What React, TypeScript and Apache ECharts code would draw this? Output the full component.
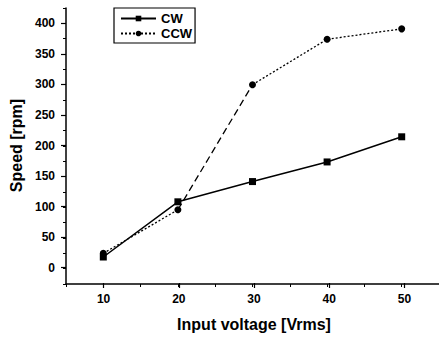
import React, { useEffect, useRef } from "react";
import * as echarts from "echarts";

const voltages = [10, 20, 30, 40, 50];
const cwSpeed = [19, 109, 142, 174, 215];
const ccwSpeed = [25, 96, 300, 374, 391];
const xTitle = "Input voltage [Vrms]";
const yTitle = "Speed [rpm]";

const W = 439;
const H = 337;
const FONT = "'Liberation Sans', Arial, sans-serif";

export default function App() {
  const ref = useRef<HTMLDivElement>(null);
  useEffect(() => {
    if (!ref.current) return;
    const chart = echarts.init(ref.current, null, { renderer: "svg" });

    // full plot frame (axis lines + minor ticks)
    const gA = { left: 66, right: -3, top: 8, bottom: 53 };
    const xMin = 5, xMax = 55, yMin = -25, yMax = 425;
    const gw = W - gA.left - gA.right;
    const gh = H - gA.top - gA.bottom;
    const px = (v: number) => gA.left + ((v - xMin) / (xMax - xMin)) * gw;
    const py = (v: number) => H - gA.bottom - ((v - yMin) / (yMax - yMin)) * gh;
    // major-tick frame
    const mxMin = 10, mxMax = 50, myMin = 0, myMax = 400;
    const gB = {
      left: px(mxMin),
      right: W - px(mxMax),
      top: py(myMax),
      bottom: H - py(myMin),
    };
    const xOff = H - gA.bottom - py(myMin);
    const yOff = px(mxMin) - gA.left;

    const pts = (ys: number[]) => voltages.map((x, i) => [x, ys[i]]);
    const ccwData: any[] = [
      [voltages[0], ccwSpeed[0]],
      [voltages[1], ccwSpeed[1]],
      "-",
      [voltages[2], ccwSpeed[2]],
      [voltages[3], ccwSpeed[3]],
      [voltages[4], ccwSpeed[4]],
    ];
    const ccwJump = [
      [voltages[1], ccwSpeed[1]],
      [voltages[2], ccwSpeed[2]],
    ];

    const lineC = { color: "#000", width: 1.5 };

    chart.setOption({
      animation: false,
      backgroundColor: "#fff",
      textStyle: { fontFamily: FONT },
      grid: [
        { ...gA, containLabel: false },
        { ...gB, containLabel: false },
      ],
      legend: {
        data: ["CW", "CCW"],
        orient: "vertical",
        left: 114,
        top: 8,
        padding: [4, 3, 3, 6],
        itemGap: 2,
        itemWidth: 35,
        itemHeight: 7,
        borderColor: "#000",
        borderWidth: 1.2,
        textStyle: {
          fontFamily: FONT,
          fontSize: 13,
          fontWeight: "bold",
          color: "#000",
          lineHeight: 12,
        },
      },
      xAxis: [
        {
          type: "value",
          gridIndex: 0,
          min: xMin,
          max: xMax,
          interval: 5,
          axisLine: { show: true, onZero: false, lineStyle: lineC },
          axisTick: { show: true, length: 3, lineStyle: { color: "#000", width: 1 } },
          axisLabel: { show: false },
          splitLine: { show: false },
        },
        {
          type: "value",
          gridIndex: 1,
          min: mxMin,
          max: mxMax,
          interval: 10,
          offset: xOff,
          axisLine: { show: false, onZero: false },
          axisTick: { show: true, length: 5, lineStyle: { color: "#000", width: 1.2 } },
          axisLabel: {
            show: true,
            margin: 10,
            fontFamily: FONT,
            fontSize: 12,
            fontWeight: "bold",
            color: "#000",
          },
          splitLine: { show: false },
          name: xTitle,
          nameLocation: "middle",
          nameGap: 33,
          nameTextStyle: { fontFamily: FONT, fontSize: 16, fontWeight: "bold", color: "#000" },
        },
      ],
      yAxis: [
        {
          type: "value",
          gridIndex: 0,
          min: yMin,
          max: yMax,
          interval: 25,
          axisLine: { show: true, onZero: false, lineStyle: lineC },
          axisTick: { show: true, length: 3, lineStyle: { color: "#000", width: 1 } },
          axisLabel: { show: false },
          splitLine: { show: false },
        },
        {
          type: "value",
          gridIndex: 1,
          min: myMin,
          max: myMax,
          interval: 50,
          offset: yOff,
          axisLine: { show: false, onZero: false },
          axisTick: { show: true, length: 5, lineStyle: { color: "#000", width: 1.2 } },
          axisLabel: {
            show: true,
            margin: 11,
            fontFamily: FONT,
            fontSize: 12,
            fontWeight: "bold",
            color: "#000",
          },
          splitLine: { show: false },
          name: yTitle,
          nameLocation: "middle",
          nameGap: 40,
          nameRotate: 90,
          nameTextStyle: { fontFamily: FONT, fontSize: 16, fontWeight: "bold", color: "#000" },
        },
      ],
      series: [
        {
          name: "CW",
          type: "line",
          xAxisIndex: 0,
          yAxisIndex: 0,
          data: pts(cwSpeed),
          symbol: "rect",
          symbolSize: 7,
          itemStyle: { color: "#000" },
          lineStyle: { color: "#000", width: 1.5, type: "solid" },
        },
        {
          name: "CCW",
          type: "line",
          xAxisIndex: 0,
          yAxisIndex: 0,
          data: ccwData,
          connectNulls: false,
          symbol: "circle",
          symbolSize: 7,
          itemStyle: { color: "#000" },
          lineStyle: { color: "#000", width: 1.3, type: [2, 2] },
        },
        {
          name: "CCW jump",
          type: "line",
          xAxisIndex: 0,
          yAxisIndex: 0,
          data: ccwJump,
          symbol: "none",
          lineStyle: { color: "#000", width: 1.3, type: [7, 4] },
          z: 1,
        },
      ],
    });
    return () => chart.dispose();
  }, []);
  return (
    <div
      ref={ref}
      style={{ position: "absolute", left: 0, top: 0, width: W, height: H, background: "#fff" }}
    />
  );
}
